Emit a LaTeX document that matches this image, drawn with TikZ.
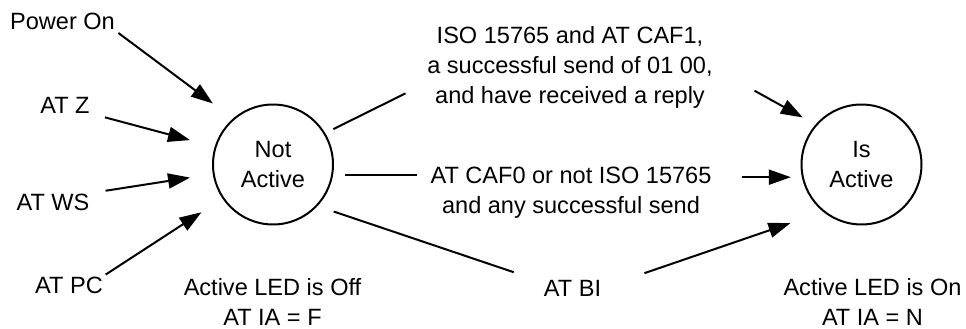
\documentclass[tikz,border=0pt]{standalone}
\usepackage{fontspec}
\setmainfont{Liberation Sans}
\usetikzlibrary{arrows.meta,calc}

\begin{document}
\begin{tikzpicture}[
    x=0.02cm, y=-0.02cm,
    every node/.style={font=\fontsize{13.4}{17}\selectfont, inner sep=0pt},
    state/.style={draw, circle, line width=0.04cm, minimum size=2.4cm, align=center},
    txt/.style={align=center},
    link/.style={line width=0.04cm},
    arr/.style={link, -{Triangle[length=0.44cm, width=0.3cm]}}
]
\useasboundingbox (0,0) rectangle (966,328);

\node[state] (na) at (273,164.5) {Not\\Active};
\node[state] (ia) at (861.5,164.5) {Is\\Active};

\node[anchor=base] (pwr) at (62.5,30) {Power On};
\node[anchor=base] (atz) at (65,113) {AT Z};
\node[anchor=base] (atws) at (53,210) {AT WS};
\node[anchor=base] (atpc) at (69,293) {AT PC};

\node[txt, anchor=north] (caf1) at (570,26.5) {ISO 15765 and AT CAF1,\\a successful send of 01 00,\\and have received a reply};
\node[txt, anchor=north] (caf0) at (571,166.5) {AT CAF0 or not ISO 15765\\and any successful send};
\node[anchor=base] (atbi) at (572.5,296) {AT BI};

\node[txt, anchor=north] (ledoff) at (272.5,278) {Active LED is Off\\AT IA = F};
\node[txt, anchor=north] (ledon) at (872.5,278) {Active LED is On\\AT IA = N};

\draw[arr, shorten <=0.08cm, shorten >=0.5cm] (pwr.south east) -- (na.131);
\draw[arr, shorten <=0.31cm, shorten >=0.51cm] (atz.south east) -- (na.163);
\draw[arr, shorten <=0.32cm, shorten >=0.46cm] (atws.north east) -- (na.189);
\draw[arr, shorten <=0.06cm, shorten >=0.5cm] (atpc.north east) -- (na.214);

\draw[link, shorten <=0.18cm, shorten >=0.48cm] (na.31.6) -- (caf1.186);
\draw[arr, shorten <=0.95cm, shorten >=0.29cm] (caf1.east) -- (ia.139);
\draw[link, shorten <=0.24cm, shorten >=0.26cm] (na.-10) -- (na.-10 -| caf0.west);
\draw[arr, shorten <=0.6cm, shorten >=0.22cm] (caf0.east |- ia.192) -- (ia.192);
\draw[link, shorten <=0.34cm, shorten >=0.63cm] (na.-43.8) -- (atbi.169);
\draw[arr, shorten <=0.91cm, shorten >=0.69cm] (atbi.east) -- (ia.231);

\end{tikzpicture}
\end{document}
